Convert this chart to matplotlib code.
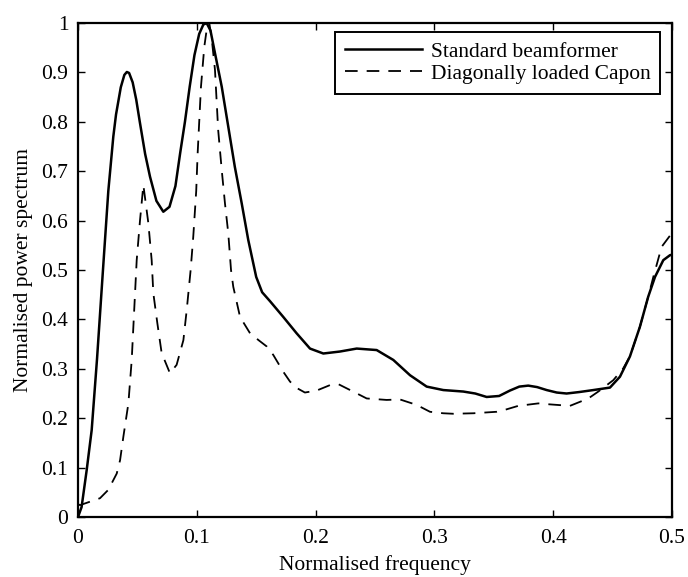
import matplotlib
matplotlib.use("Agg")
import matplotlib.pyplot as plt
from matplotlib.ticker import FuncFormatter

plt.rcParams['font.family'] = ['Liberation Serif', 'DejaVu Serif']

# standard beamformer (solid)
freq_std = [0.0, 0.003, 0.0073, 0.0115, 0.016, 0.021, 0.0255, 0.0297, 0.032, 0.036,
            0.039, 0.0411, 0.043, 0.046, 0.049, 0.052, 0.0565, 0.0606, 0.066, 0.0718,
            0.077, 0.082, 0.086, 0.090, 0.094, 0.098, 0.102, 0.1055, 0.1083, 0.1115,
            0.1153, 0.121, 0.1265, 0.132, 0.1378, 0.1433, 0.150, 0.155, 0.1616, 0.1728,
            0.184, 0.1953, 0.2065, 0.2205, 0.2346, 0.2514, 0.2654, 0.2795, 0.2935, 0.3075,
            0.3243, 0.3344, 0.344, 0.3545, 0.3636, 0.3715, 0.379, 0.3865, 0.3945, 0.403,
            0.4113, 0.422, 0.4338, 0.4478, 0.4562, 0.4646, 0.473, 0.480, 0.4857, 0.4927,
            0.4983, 0.500]
power_std = [0.0, 0.02, 0.095, 0.176, 0.32, 0.50, 0.66, 0.77, 0.815, 0.87,
             0.895, 0.901, 0.899, 0.88, 0.845, 0.80, 0.735, 0.689, 0.640, 0.618,
             0.628, 0.67, 0.737, 0.80, 0.871, 0.935, 0.978, 0.997, 1.0, 0.985,
             0.939, 0.871, 0.79, 0.709, 0.635, 0.561, 0.486, 0.455, 0.437, 0.405,
             0.372, 0.341, 0.331, 0.335, 0.341, 0.338, 0.318, 0.287, 0.264, 0.257,
             0.254, 0.250, 0.243, 0.245, 0.256, 0.264, 0.266, 0.263, 0.257, 0.252,
             0.250, 0.253, 0.257, 0.262, 0.284, 0.325, 0.385, 0.446, 0.486, 0.52,
             0.530, 0.531]

# diagonally loaded Capon (dashed)
freq_cap = [0.0, 0.0017, 0.0101, 0.0185, 0.0255, 0.0326, 0.0354, 0.0382, 0.0424, 0.0452,
            0.048, 0.0494, 0.0522, 0.055, 0.0592, 0.062, 0.0634, 0.0668, 0.0704, 0.0774,
            0.083, 0.0887, 0.0915, 0.0948, 0.097, 0.0995, 0.1007, 0.1035, 0.1063, 0.1085,
            0.1105, 0.1125, 0.1153, 0.118, 0.121, 0.1237, 0.1265, 0.1288, 0.1307, 0.1364,
            0.1448, 0.152, 0.159, 0.1644, 0.1728, 0.1785, 0.185, 0.191, 0.2009, 0.2121,
            0.2191, 0.2332, 0.243, 0.2598, 0.271, 0.285, 0.2963, 0.3075, 0.316, 0.3328,
            0.3524, 0.3594, 0.3706, 0.3875, 0.3973, 0.4141, 0.4296, 0.438, 0.4506, 0.459,
            0.4646, 0.473, 0.480, 0.4843, 0.4913, 0.500]
power_cap = [0.026, 0.024, 0.031, 0.038, 0.055, 0.088, 0.115, 0.163, 0.23, 0.318,
             0.453, 0.52, 0.601, 0.672, 0.595, 0.52, 0.453, 0.392, 0.332, 0.291,
             0.308, 0.358, 0.419, 0.50, 0.567, 0.66, 0.736, 0.871, 0.952, 0.99,
             1.0, 0.97, 0.905, 0.783, 0.702, 0.635, 0.574, 0.50, 0.466, 0.405,
             0.372, 0.358, 0.345, 0.328, 0.294, 0.274, 0.26, 0.252, 0.256, 0.267,
             0.269, 0.252, 0.240, 0.237, 0.238, 0.227, 0.213, 0.21, 0.209, 0.21,
             0.213, 0.217, 0.225, 0.230, 0.228, 0.225, 0.24, 0.254, 0.277, 0.301,
             0.325, 0.385, 0.446, 0.486, 0.547, 0.575]

labels = ['Standard beamformer', 'Diagonally loaded Capon']
xticks = [0, 0.1, 0.2, 0.3, 0.4, 0.5]
yticks = [0, 0.1, 0.2, 0.3, 0.4, 0.5, 0.6, 0.7, 0.8, 0.9, 1.0]

fig = plt.figure(figsize=(6.88, 5.77), dpi=100)
ax = fig.add_axes([0.1134, 0.104, 0.8633, 0.856])

ax.plot(freq_std, power_std, color='black', lw=1.8, label=labels[0])
ax.plot(freq_cap, power_cap, color='black', lw=1.3, linestyle=(0, (7, 5)), label=labels[1])

ax.set_xlim(0, 0.5)
ax.set_ylim(0, 1)
ax.set_xticks(xticks)
ax.set_yticks(yticks)
fmt = FuncFormatter(lambda v, p: '%g' % round(v, 2))
ax.xaxis.set_major_formatter(fmt)
ax.yaxis.set_major_formatter(fmt)
ax.tick_params(direction='in', top=True, right=True, length=5, width=1,
               labelsize=15.5, pad=7)
ax.tick_params(axis='x', pad=9)
for s in ax.spines.values():
    s.set_linewidth(1.6)

ax.set_xlabel('Normalised frequency', fontsize=15.5, labelpad=5)
ax.set_ylabel('Normalised power spectrum', fontsize=15.5, labelpad=6)

leg = ax.legend(loc='upper right', bbox_to_anchor=(0.98, 0.982), borderaxespad=0,
                fontsize=15.5, fancybox=False, framealpha=1, edgecolor='black',
                handlelength=3.6, handletextpad=0.4, borderpad=0.45, labelspacing=0.1)
leg.get_frame().set_linewidth(1.4)

fig.savefig('out.png', dpi=100)
